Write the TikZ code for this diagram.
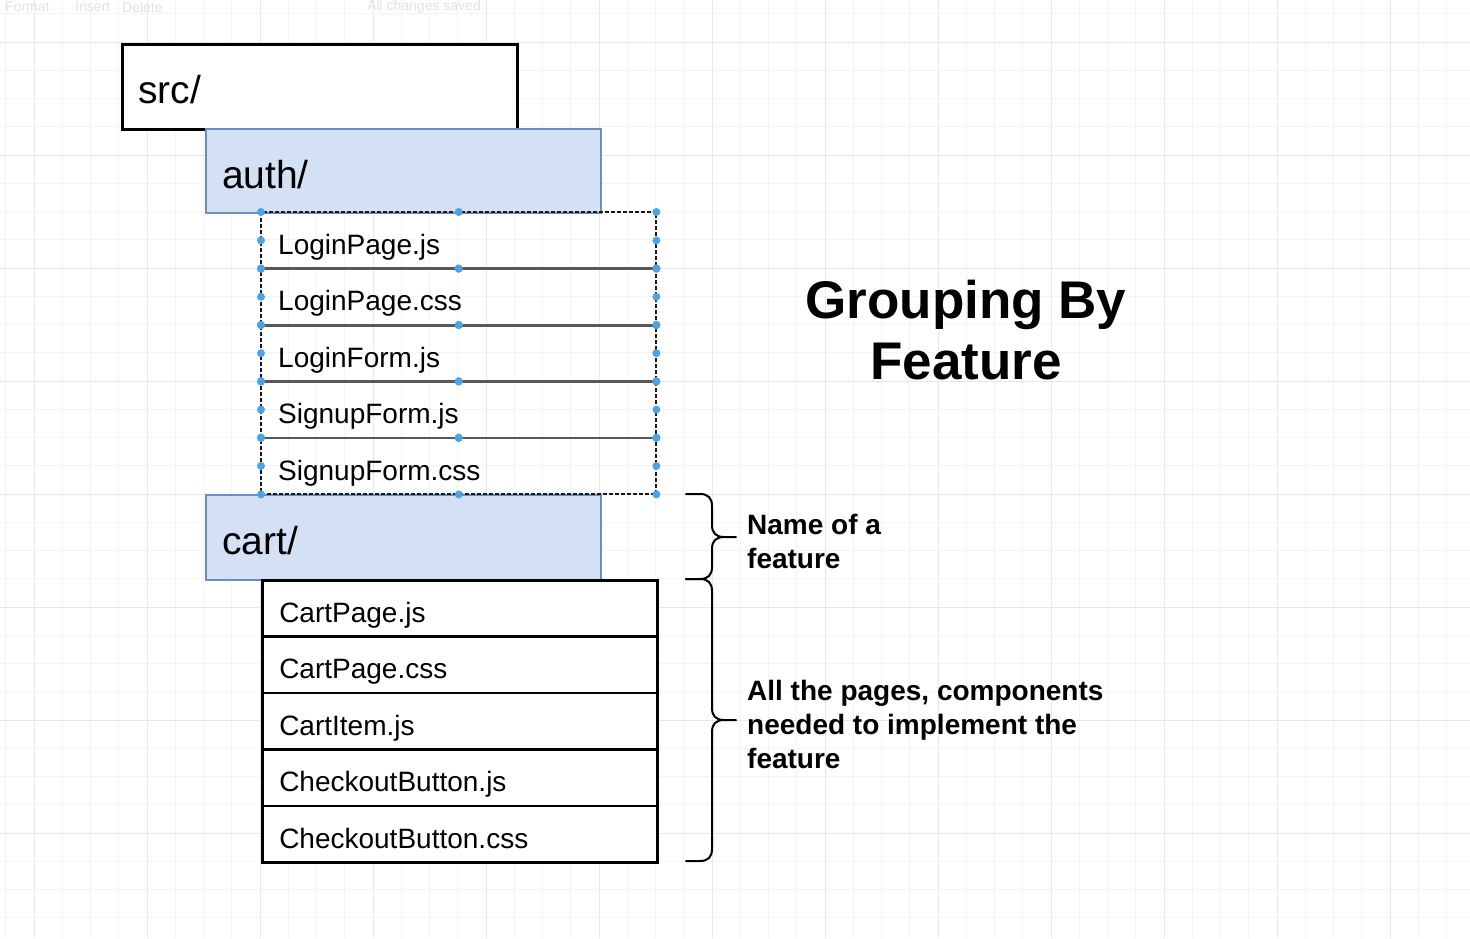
\documentclass[tikz,border=0pt]{standalone}
\usepackage{fontspec}
\setmainfont{Liberation Sans}
\definecolor{gridmin}{HTML}{F4F4F4}
\definecolor{gridmaj}{HTML}{E8E8E8}
\definecolor{folderfill}{HTML}{D4E1F5}
\definecolor{folderline}{HTML}{6C8EBF}
\definecolor{handleblue}{HTML}{4FA3E0}
\definecolor{sepgray}{HTML}{585858}
\definecolor{uigray}{HTML}{E2E2E2}
\begin{document}
\begin{tikzpicture}[x={(1pt,0)},y={(0,-1pt)},
  minorgrid/.style={draw=gridmin, line width=0.8pt},
  majorgrid/.style={draw=gridmaj, line width=1pt},
  srcbox/.style={draw=black, line width=2.5pt, fill=white, anchor=north west,
    minimum width=395pt, minimum height=85pt, text width=363pt, inner xsep=16pt,
    inner ysep=0pt, align=left, text height=34pt, text depth=0pt,
    font=\fontsize{39}{45}\selectfont},
  folderbox/.style={srcbox, draw=folderline, line width=2pt, fill=folderfill},
  authfile/.style={anchor=north west, minimum width=395pt, minimum height=56.4pt,
    text width=361pt, inner xsep=17pt, inner ysep=0pt, align=left,
    text height=28pt, text depth=0pt,
    font=\fontsize{28}{34}\selectfont},
  cartfile/.style={authfile, draw=black, line width=2.5pt, fill=white},
  sep/.style={draw=sepgray, line width=2.8pt},
  sel/.style={draw=black!90, line width=2pt, dash pattern=on 4pt off 2pt},
  handle/.style={fill=handleblue},
  bracepath/.style={draw=black, line width=2pt, line join=round, line cap=round},
  note/.style={anchor=west, align=left, inner sep=0pt, font=\fontsize{28}{34}\selectfont\bfseries},
  title/.style={align=center, inner sep=0pt, font=\fontsize{53}{61}\selectfont\bfseries},
  uitext/.style={anchor=west, inner sep=0pt, text=uigray, font=\fontsize{14}{16}\selectfont}
]
\useasboundingbox (0,0) rectangle (1470,938);
\fill[white] (0,0) rectangle (1470,938);
% grid
\foreach \i in {-1,...,52} {
  \pgfmathsetmacro\gx{34+28.25*\i}
  \draw[minorgrid] (\gx,0) -- (\gx,938);
}
\foreach \i in {-2,...,33} {
  \pgfmathsetmacro\gy{42+28.25*\i}
  \draw[minorgrid] (0,\gy) -- (1470,\gy);
}
\foreach \i in {0,...,12} {
  \pgfmathsetmacro\gx{34+113*\i}
  \draw[majorgrid] (\gx,0) -- (\gx,938);
}
\foreach \i in {0,...,8} {
  \pgfmathsetmacro\gy{42+113*\i}
  \draw[majorgrid] (0,\gy) -- (1470,\gy);
}
% faint toolbar
\node[uitext] (tb1) at (5,7) {Format};
\node[uitext] (tb2) at (75,7) {Insert};
\node[uitext] (tb3) at (122,7) {Delete};
\node[uitext] (tb4) at (367,7) {All changes saved};

% folders and files
\node[srcbox] (src) at (121,43) {src/};
\node[folderbox, minimum height=84pt] (auth) at (205,128) {auth/};
\node[authfile] (a1) at (261,212) {LoginPage.js};
\node[authfile] (a2) at (261,268.4) {LoginPage.css};
\node[authfile] (a3) at (261,324.8) {LoginForm.js};
\node[authfile] (a4) at (261,381.2) {SignupForm.js};
\node[authfile] (a5) at (261,437.6) {SignupForm.css};
\draw[sep] (a1.south west) -- (a1.south east);
\draw[sep] (a2.south west) -- (a2.south east);
\draw[sep] (a3.south west) -- (a3.south east);
\draw[sep] (a4.south west) -- (a4.south east);

\node[folderbox] (cart) at (205,494) {cart/};
\node[cartfile] (c1) at (261,579) {CartPage.js};
\node[cartfile] (c2) at (261,635.4) {CartPage.css};
\node[cartfile] (c3) at (261,691.8) {CartItem.js};
\node[cartfile] (c4) at (261,748.2) {CheckoutButton.js};
\node[cartfile] (c5) at (261,804.6) {CheckoutButton.css};

% selection outline and handles
\draw[sel] (a1.north west) rectangle (a5.south east);
\foreach \n in {a1,a2,a3,a4,a5} {
  \foreach \an in {north west,north,north east,west,east,south west,south,south east} {
    \fill[handle] (\n.\an) circle[radius=4pt];
  }
}

% braces
\draw[bracepath] (686,494) -- (700,494) .. controls (708,494) and (712,498) .. (712,506)
  -- (712,525) .. controls (712,533) and (716,537) .. (724,537) -- (736,537)
  (724,537) .. controls (716,537) and (712,541) .. (712,549)
  -- (712,567) .. controls (712,575) and (708,579) .. (700,579) -- (686,579);
\draw[bracepath] (686,579) -- (700,579) .. controls (708,579) and (712,583) .. (712,591)
  -- (712,708) .. controls (712,716) and (716,720) .. (724,720) -- (736,720)
  (724,720) .. controls (716,720) and (712,724) .. (712,732)
  -- (712,849) .. controls (712,857) and (708,861) .. (700,861) -- (686,861);

% texts
\node[title] (ttl) at (966,330) {Grouping By\\Feature};
\node[note] (n1) at (747,541) {Name of a\\feature};
\node[note] (n2) at (747,724.5) {All the pages, components\\needed to implement the\\feature};
\end{tikzpicture}
\end{document}
